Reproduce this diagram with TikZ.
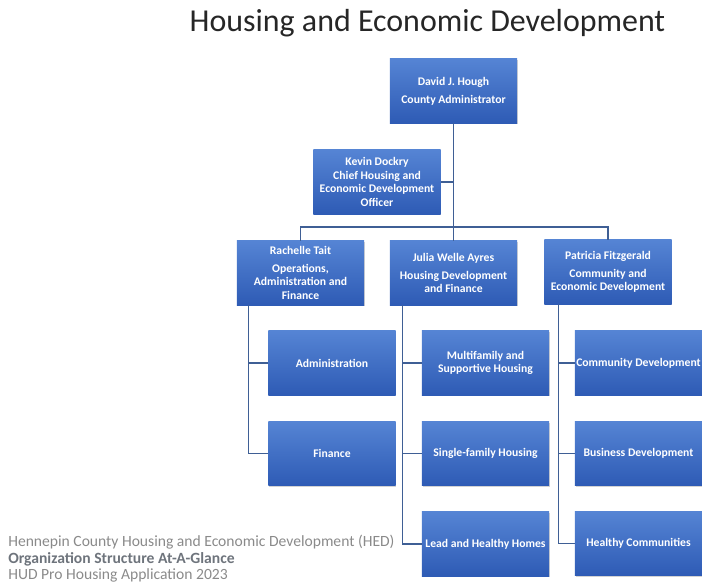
\documentclass[tikz,border=0pt]{standalone}
\usepackage{fontspec}
\setmainfont{Carlito}
\usetikzlibrary{shadows}

\definecolor{boxtop}{HTML}{5584D4}
\definecolor{boxbot}{HTML}{2E5BB5}
\definecolor{linkblue}{HTML}{3F5F95}
\definecolor{footgray}{HTML}{8A8A8A}
\definecolor{footdark}{HTML}{6E747C}

\tikzset{
  unit/.style={rectangle, minimum width=3.175cm, minimum height=1.6cm,
    top color=boxtop, bottom color=boxbot, text=white, align=center,
    inner sep=1pt, font=\fontsize{8.3}{9.6}\selectfont\bfseries,
    drop shadow={shadow xshift=0.6pt, shadow yshift=-0.8pt, opacity=0.35}},
  link/.style={draw=linkblue, line width=0.9pt},
  foot/.style={anchor=base west, inner sep=0pt, text=footgray,
    font=\fontsize{11.1}{13}\selectfont},
}

\begin{document}
\begin{tikzpicture}[x=0.025cm, y=-0.025cm]
  \useasboundingbox (0,0) rectangle (702,582);
  \node[anchor=base, text=black!85, font=\fontsize{22.7}{27}\selectfont] (title) at (427.5,32) {Housing and Economic Development};

  % top of the tree
  \node[unit] (hough) at (453.5,91) {David J. Hough\\[3pt]County Administrator};
  \node[unit] (dockry) at (377,182) {Kevin Dockry\\Chief Housing and\\Economic Development\\Officer};

  % the three divisions
  \node[unit] (tait) at (300.5,273) {Rachelle Tait\\[3pt]Operations,\\Administration and\\Finance};
  \node[unit] (ayres) at (453.5,273) {Julia Welle Ayres\\[3pt]Housing Development\\and Finance};
  \node[unit] (fitzgerald) at (608,272) {Patricia Fitzgerald\\[3pt]Community and\\Economic Development};

  % their units
  \node[unit] (admin) at (332,363) {Administration};
  \node[unit] (finance) at (332,453.5) {Finance};
  \node[unit] (multifamily) at (485.5,363) {Multifamily and\\Supportive Housing};
  \node[unit] (single) at (485.5,453.5) {Single-family Housing};
  \node[unit] (lead) at (485.5,544) {Lead and Healthy Homes};
  \node[unit] (commdev) at (638.5,363) {Community Development};
  \node[unit] (business) at (638.5,453.5) {Business Development};
  \node[unit] (healthy) at (638.5,543.5) {Healthy Communities};

  % Draw the reporting lines
  \coordinate (bar) at (453.5,227);
  \draw[link] (hough) -- (ayres);
  \draw[link] (dockry.east) -- (dockry.east -| hough.south);
  \draw[link] (tait.north) |- (bar) -| (fitzgerald.north);

  \coordinate (taitspine) at ([xshift=0.3cm]tait.south west);
  \draw[link] (taitspine) |- (admin.west);
  \draw[link] (taitspine) |- (finance.west);

  \coordinate (ayresspine) at ([xshift=0.325cm]ayres.south west);
  \draw[link] (ayresspine) |- (multifamily.west);
  \draw[link] (ayresspine) |- (single.west);
  \draw[link] (ayresspine) |- (lead.west);

  \coordinate (fitzspine) at ([xshift=0.35cm]fitzgerald.south west);
  \draw[link] (fitzspine) |- (commdev.west);
  \draw[link] (fitzspine) |- (business.west);
  \draw[link] (fitzspine) |- (healthy.west);

  % footer
  \node[foot] (hed) at (8,546) {Hennepin County Housing and Economic Development (HED)};
  \node[foot, text=footdark, font=\fontsize{11.1}{13}\selectfont\bfseries] (glance) at (8,563) {Organization Structure At-A-Glance};
  \node[foot] (hud) at (8,579) {HUD Pro Housing Application 2023};
\end{tikzpicture}
\end{document}
